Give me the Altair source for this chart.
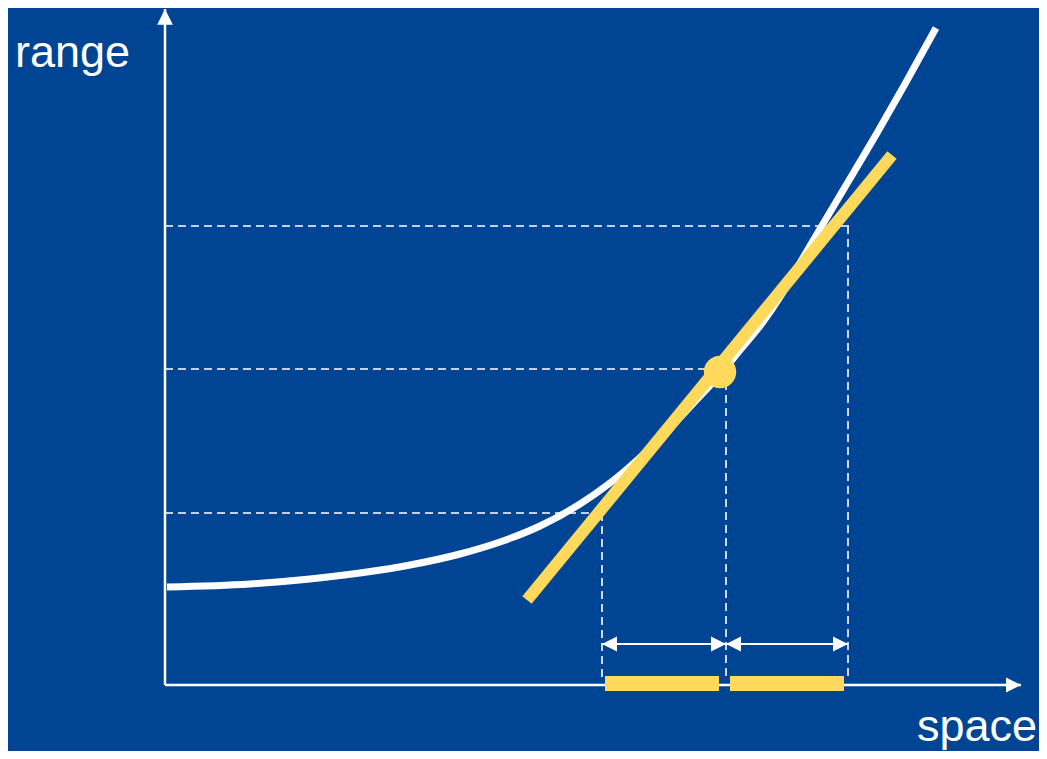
import altair as alt
import pandas as pd

# ---- data (units: 1 = 100 px, origin at the axis corner) ----
curve_x = [0.02, 0.85, 1.45, 1.95, 2.45, 2.95, 3.35, 3.75, 4.15, 4.45, 4.75, 5.05, 5.35, 5.53,
           5.75, 5.98, 6.15, 6.32, 6.55, 6.80, 7.12, 7.40, 7.71]
curve_y = [0.98, 1.01, 1.06, 1.12, 1.20, 1.31, 1.43, 1.59, 1.81, 2.02, 2.275, 2.57, 2.89, 3.08,
           3.35, 3.63, 3.88, 4.17, 4.56, 4.98, 5.52, 6.01, 6.57]

tangent_x = [3.62, 7.27]
tangent_y = [0.85, 5.30]

point_x = [5.55]
point_y = [3.13]

# dashed guide segments
guide_x = [0.0, 0.0, 0.0, 4.37, 5.61, 6.83]
guide_y = [4.59, 3.16, 1.72, 1.72, 3.16, 4.59]
guide_x2 = [6.85, 5.61, 4.37, 4.37, 5.61, 6.83]
guide_y2 = [4.59, 3.16, 1.72, 0.05, 0.05, 0.05]

# measurement arrows
arrow_x = [4.37, 5.61]
arrow_x2 = [5.61, 6.83]
arrow_y = [0.41, 0.41]

# interval bars on the space axis
bar_x = [4.40, 5.65]
bar_x2 = [5.54, 6.79]
bar_y = [0.09, 0.09]
bar_y2 = [-0.06, -0.06]

# axes
axis_origin = [0.0, 0.0]
x_axis_end = 8.56
y_axis_end = 6.76

labels = ["range", "space"]

BG = "#004494"
YEL = "#FFD95C"
WHITE = "#FFFFFF"

xs = alt.Scale(domain=[-1.57, 8.74], nice=False, zero=False)
ys = alt.Scale(domain=[-0.66, 6.77], nice=False, zero=False)

def X(f="x"):
    return alt.X(f"{f}:Q", scale=xs, axis=None)

def Y(f="y"):
    return alt.Y(f"{f}:Q", scale=ys, axis=None)

guides = pd.DataFrame({"x": guide_x, "y": guide_y, "x2": guide_x2, "y2": guide_y2})
guide_layer = alt.Chart(guides).mark_rule(color=WHITE, strokeWidth=1.6, strokeDash=[8, 5]).encode(
    x=X(), y=Y(), x2="x2:Q", y2="y2:Q")

axes = pd.DataFrame({"x": [axis_origin[0], axis_origin[0]], "y": [axis_origin[1], axis_origin[1]],
                     "x2": [x_axis_end, axis_origin[0]], "y2": [axis_origin[1], y_axis_end]})
axis_layer = alt.Chart(axes).mark_rule(color=WHITE, strokeWidth=2.5).encode(
    x=X(), y=Y(), x2="x2:Q", y2="y2:Q")

xhead = alt.Chart(pd.DataFrame({"x": [x_axis_end], "y": [axis_origin[1]]})).mark_point(
    shape="M 0 0 L -1 -0.5 L -1 0.5 Z", size=900, filled=True, color=WHITE, opacity=1, strokeWidth=0
).encode(x=X(), y=Y())
yhead = alt.Chart(pd.DataFrame({"x": [axis_origin[0]], "y": [y_axis_end]})).mark_point(
    shape="M 0 0 L -0.5 1 L 0.5 1 Z", size=1000, filled=True, color=WHITE, opacity=1, strokeWidth=0
).encode(x=X(), y=Y())

curve = pd.DataFrame({"x": curve_x, "y": curve_y})
curve_layer = alt.Chart(curve).mark_line(color=WHITE, strokeWidth=7, interpolate="monotone", strokeCap="butt").encode(
    x=X(), y=Y(), order="x:Q")

tangent = pd.DataFrame({"x": tangent_x, "y": tangent_y})
tangent_layer = alt.Chart(tangent).mark_line(color=YEL, strokeWidth=12, strokeCap="butt").encode(
    x=X(), y=Y())

point_layer = alt.Chart(pd.DataFrame({"x": point_x, "y": point_y})).mark_point(
    filled=True, color=YEL, size=1050, opacity=1, shape="circle", strokeWidth=0).encode(x=X(), y=Y())

arrows = pd.DataFrame({"x": arrow_x, "x2": arrow_x2, "y": arrow_y})
arrow_lines = alt.Chart(arrows).mark_rule(color=WHITE, strokeWidth=2).encode(x=X(), x2="x2:Q", y=Y())
arrow_left = alt.Chart(arrows).mark_point(
    shape="M 0 0 L 1 -0.5 L 1 0.5 Z", size=900, filled=True, color=WHITE, opacity=1, strokeWidth=0
).encode(x=X(), y=Y())
arrow_right = alt.Chart(arrows).mark_point(
    shape="M 0 0 L -1 -0.5 L -1 0.5 Z", size=900, filled=True, color=WHITE, opacity=1, strokeWidth=0
).encode(x=X("x2"), y=Y())

bars = pd.DataFrame({"x": bar_x, "x2": bar_x2, "y": bar_y, "y2": bar_y2})
bar_layer = alt.Chart(bars).mark_rect(color=YEL).encode(x=X(), x2="x2:Q", y=Y(), y2="y2:Q")

texts = pd.DataFrame({"x": [-1.50, 8.72], "y": [6.18, -0.56], "t": labels})
text_range = alt.Chart(texts.iloc[[0]]).mark_text(
    align="left", baseline="alphabetic", font="Liberation Sans", fontSize=45, color=WHITE
).encode(x=X(), y=Y(), text="t:N")
text_space = alt.Chart(texts.iloc[[1]]).mark_text(
    align="right", baseline="alphabetic", font="Liberation Sans", fontSize=45, color=WHITE
).encode(x=X(), y=Y(), text="t:N")

chart = alt.layer(
    guide_layer, curve_layer, tangent_layer, point_layer,
    arrow_lines, arrow_left, arrow_right,
    axis_layer, xhead, yhead, bar_layer,
    text_range, text_space,
).properties(
    width=1031, height=743, background=BG, padding=0,
    autosize=alt.AutoSizeParams(type="none"),
).configure_view(stroke=None)

chart.save("out.html", embed_options={"renderer": "svg", "actions": False})
